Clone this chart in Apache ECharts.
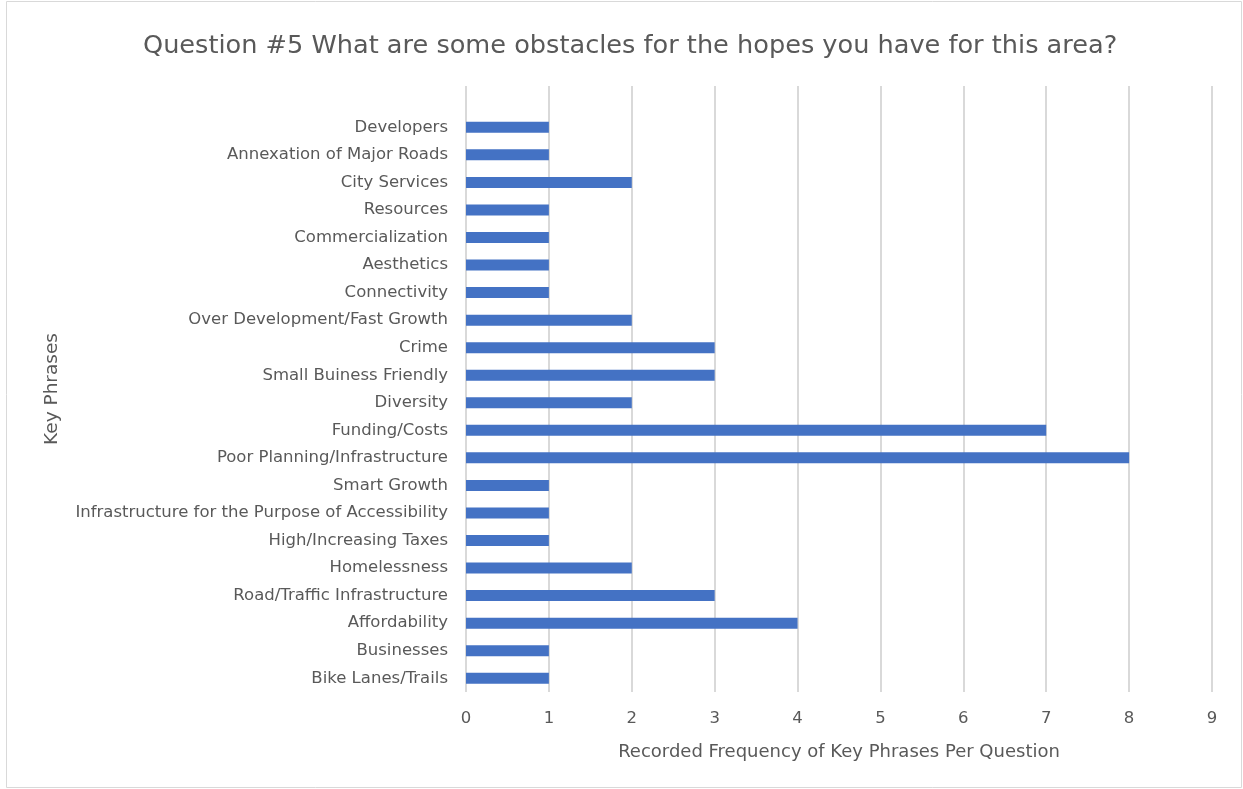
<!DOCTYPE html>
<html>
<head>
<meta charset="utf-8">
<script src="https://cdn.jsdelivr.net/npm/echarts@6/dist/echarts.min.js"></script>
<style>
  html, body { margin: 0; padding: 0; background: #fff; }
  #chart { width: 1243px; height: 789px; }
</style>
</head>
<body>
<div id="chart"></div>
<script>
  // categories listed bottom to top (echarts category axis starts at the bottom)
  var phrases = [
    'Bike Lanes/Trails',
    'Businesses',
    'Affordability',
    'Road/Traffic Infrastructure',
    'Homelessness',
    'High/Increasing Taxes',
    'Infrastructure for the Purpose of Accessibility',
    'Smart Growth',
    'Poor Planning/Infrastructure',
    'Funding/Costs',
    'Diversity',
    'Small Buiness Friendly',
    'Crime',
    'Over Development/Fast Growth',
    'Connectivity',
    'Aesthetics',
    'Commercialization',
    'Resources',
    'City Services',
    'Annexation of Major Roads',
    'Developers',
    ''
  ];
  var counts = [1, 1, 4, 3, 2, 1, 1, 1, 8, 7, 2, 3, 3, 2, 1, 1, 1, 1, 2, 1, 1, null];
  var xTicks = [0, 1, 2, 3, 4, 5, 6, 7, 8, 9];

  var font = 'DejaVu Sans';
  var grey = '#595959';
  var chart = echarts.init(document.getElementById('chart'));
  chart.setOption({
    animation: false,
    title: {
      text: 'Question #5 What are some obstacles for the hopes you have for this area?',
      left: 138,
      top: 28,
      textStyle: { fontFamily: font, fontSize: 25.6, fontWeight: 'normal', color: grey }
    },
    graphic: [{
      type: 'rect',
      shape: { x: 6.5, y: 1.5, width: 1235, height: 786 },
      style: { fill: null, stroke: '#d9d9d9', lineWidth: 1 },
      silent: true
    }],
    grid: { left: 466, right: 31, top: 86, bottom: 97 },
    xAxis: {
      type: 'value',
      min: xTicks[0],
      max: xTicks[xTicks.length - 1],
      interval: 1,
      name: 'Recorded Frequency of Key Phrases Per Question',
      nameLocation: 'middle',
      nameGap: 51,
      nameTextStyle: { fontFamily: font, fontSize: 18, color: grey },
      axisLine: { show: false },
      axisTick: { show: false },
      axisLabel: { fontFamily: font, fontSize: 16.5, color: grey, margin: 18 },
      splitLine: { lineStyle: { color: '#d9d9d9', width: 2 } }
    },
    yAxis: {
      type: 'category',
      data: phrases,
      name: 'Key Phrases',
      nameLocation: 'middle',
      nameGap: 404,
      nameTextStyle: { fontFamily: font, fontSize: 18.5, color: grey },
      axisLine: { show: false },
      axisTick: { show: false },
      axisLabel: { fontFamily: font, fontSize: 16.5, color: grey, margin: 18 }
    },
    series: [{
      type: 'bar',
      data: counts,
      barWidth: 11,
      itemStyle: { color: '#4472C4' }
    }]
  });
</script>
</body>
</html>
